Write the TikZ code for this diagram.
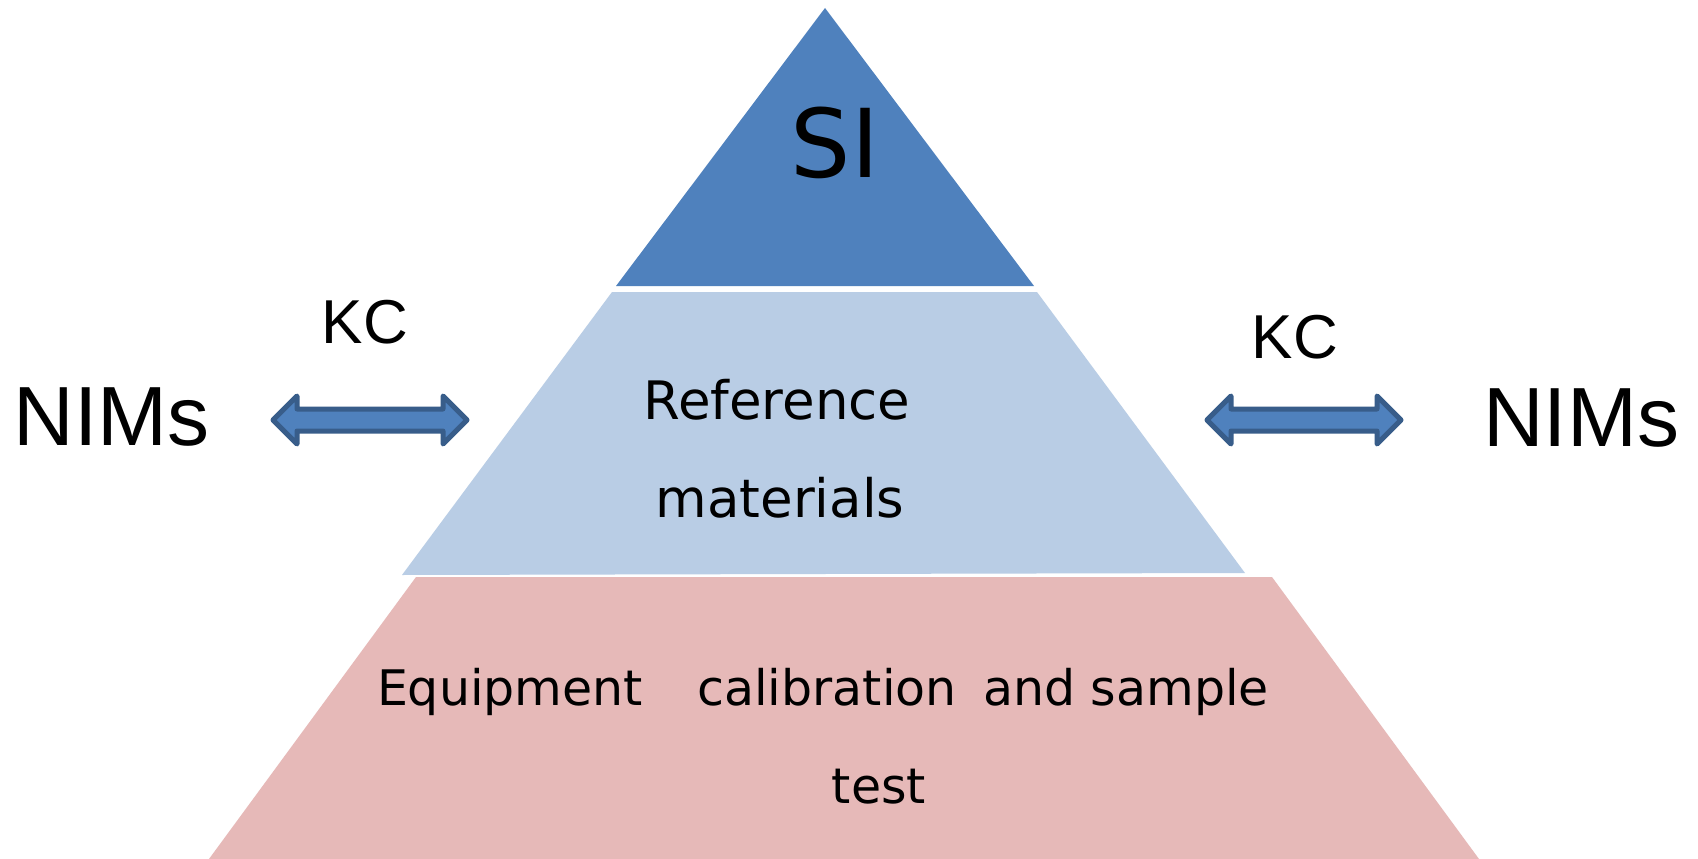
\documentclass[tikz,border=0pt]{standalone}
\usepackage{fontspec}
\newfontfamily\dvs{DejaVu Sans}
\newfontfamily\lsans{Liberation Sans}
\definecolor{topblue}{HTML}{4F81BD}
\definecolor{midblue}{HTML}{B9CDE5}
\definecolor{lowpink}{HTML}{E6B9B8}
\definecolor{arrowedge}{HTML}{385D8A}
\begin{document}
\begin{tikzpicture}[x=1pt,y=-1pt,
  layer/.style={draw=none},
  blockarrow/.style={fill=topblue,draw=arrowedge,line width=5pt,line join=round},
  txt/.style={inner sep=0pt,anchor=base,text=black},
  bigsans/.style={txt,font=\lsans\fontsize{84}{84}\selectfont},
  kcsans/.style={txt,font=\lsans\fontsize{62}{62}\selectfont},
  sitext/.style={txt,font=\dvs\fontsize{95}{95}\selectfont},
  midtext/.style={txt,font=\dvs\fontsize{53}{53}\selectfont},
  lowtext/.style={txt,font=\dvs\fontsize{49}{49}\selectfont}]
\useasboundingbox[fill=white] (0,0) rectangle (1698,859);
% pyramid layers
\fill[topblue] (825,8) -- (1034,286) -- (616,286) -- cycle;
\fill[midblue] (612,292) -- (1037,292) -- (1245,573) -- (402,575) -- cycle;
\fill[lowpink] (416,577) -- (1272,577) -- (1479,859) -- (209,859) -- cycle;
% block arrows
\draw[blockarrow] (273,420) -- (297,396) -- (297,409) -- (443,409) -- (443,396) -- (467,420)
  -- (443,444) -- (443,431) -- (297,431) -- (297,444) -- cycle;
\draw[blockarrow] (1207,420) -- (1231,396) -- (1231,409) -- (1377,409) -- (1377,396) -- (1401,420)
  -- (1377,444) -- (1377,431) -- (1231,431) -- (1231,444) -- cycle;
% texts
\node[sitext] (si) at (835,177) {SI};
\node[midtext] (ref) at (777,419) {Reference};
\node[midtext] (mat) at (780,517) {materials};
\node[lowtext] (equip) at (510,705) {Equipment};
\node[lowtext] (calib) at (827,705) {calibration};
\node[lowtext] (andsample) at (1126,705) {and sample};
\node[lowtext] (test) at (879,803) {test};
\node[bigsans] (nimsl) at (111.5,445) {NIMs};
\node[bigsans] (nimsr) at (1581,446) {NIMs};
\node[kcsans] (kcl) at (365,343) {KC};
\node[kcsans] (kcr) at (1295,358) {KC};
\end{tikzpicture}
\end{document}
